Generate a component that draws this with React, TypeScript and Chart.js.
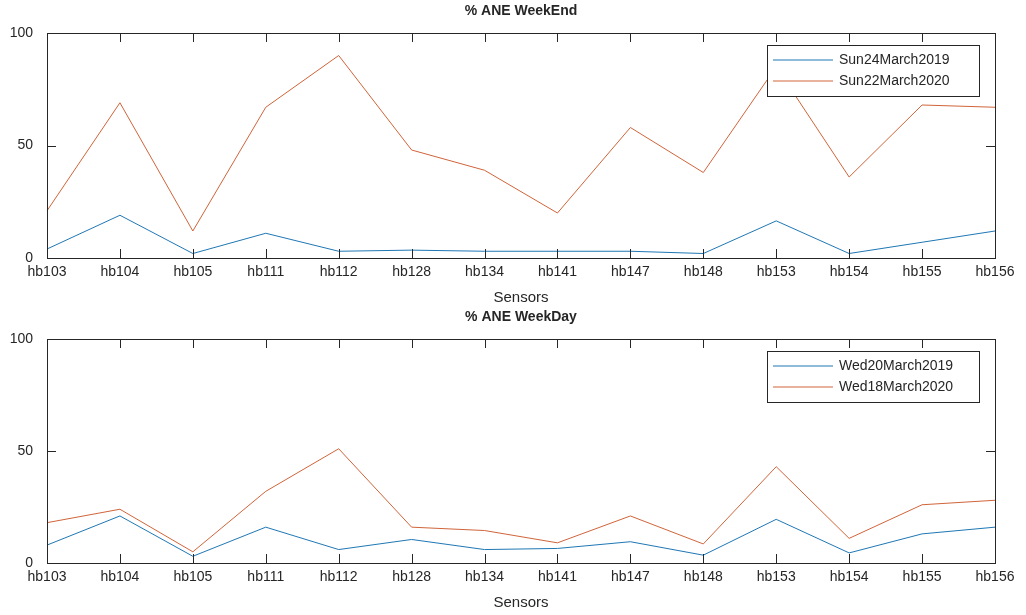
import React, { useEffect, useRef } from "react";
import { Chart, registerables } from "chart.js";
Chart.register(...registerables);

const sensors = ["hb103","hb104","hb105","hb111","hb112","hb128","hb134","hb141","hb147","hb148","hb153","hb154","hb155","hb156"];
const sun2019 = [4, 19, 2, 11, 3, 3.5, 3, 3, 3, 2, 16.5, 2, 7, 12];
const sun2020 = [21, 69, 12, 67, 90, 48, 39, 20, 58, 38, 85, 36, 68, 67];
const wed2019 = [8, 21, 3, 16, 6, 10.5, 6, 6.5, 9.5, 3.5, 19.5, 4.5, 13, 16];
const wed2020 = [18, 24, 5, 32, 51, 16, 14.5, 9, 21, 8.5, 43, 11, 26, 28];
const yTicks = [0, 50, 100];

const FONT = "'Liberation Sans', Arial, sans-serif";
const BLUE = "#1f77b4";
const ORANGE = "#d0643a";

function makeChart(canvas: HTMLCanvasElement, title: string, names: string[], a: number[], b: number[], top: number, xH: number) {
  const deco = {
    id: "deco",
    afterDraw(chart: any) {
      const { ctx, chartArea: ca, scales } = chart;
      ctx.save();
      ctx.strokeStyle = "#262626";
      ctx.lineWidth = 1;
      ctx.strokeRect(Math.round(ca.left) + 0.5, Math.round(ca.top) + 0.5, Math.round(ca.right - ca.left), Math.round(ca.bottom - ca.top));
      ctx.beginPath();
      sensors.forEach((_, i) => {
        const x = Math.round(scales.x.getPixelForValue(i)) + 0.5;
        ctx.moveTo(x, ca.bottom); ctx.lineTo(x, ca.bottom - 9);
        ctx.moveTo(x, ca.top); ctx.lineTo(x, ca.top + 9);
      });
      yTicks.forEach((v) => {
        const y = Math.round(scales.y.getPixelForValue(v)) + 0.5;
        ctx.moveTo(ca.left, y); ctx.lineTo(ca.left + 9, y);
        ctx.moveTo(ca.right, y); ctx.lineTo(ca.right - 9, y);
      });
      ctx.stroke();
      ctx.fillStyle = "#262626";
      ctx.textAlign = "center";
      ctx.textBaseline = "middle";
      ctx.font = `bold 14px ${FONT}`;
      ctx.fillText(title, (ca.left + ca.right) / 2, ca.top - 22);
      ctx.font = `15px ${FONT}`;
      ctx.fillText("Sensors", (ca.left + ca.right) / 2, ca.bottom + 40);
      // legend
      const lw = 212, lh = 51;
      const lx = ca.right - 16 - lw, ly = ca.top + 12;
      ctx.fillStyle = "#fff";
      ctx.fillRect(lx, ly, lw, lh);
      ctx.strokeRect(lx + 0.5, ly + 0.5, lw, lh);
      ctx.font = `14px ${FONT}`;
      ctx.textAlign = "left";
      [[BLUE, names[0]], [ORANGE, names[1]]].forEach(([c, n], i) => {
        const yy = ly + 15 + i * 21;
        ctx.strokeStyle = c;
        ctx.beginPath(); ctx.moveTo(lx + 6, yy); ctx.lineTo(lx + 66, yy); ctx.stroke();
        ctx.fillStyle = "#262626";
        ctx.fillText(n, lx + 72, yy);
      });
      ctx.restore();
    },
  };
  return new Chart(canvas, {
    type: "line",
    data: {
      labels: sensors,
      datasets: [
        { label: names[0], data: a, borderColor: BLUE, borderWidth: 1, pointRadius: 0, tension: 0 },
        { label: names[1], data: b, borderColor: ORANGE, borderWidth: 1, pointRadius: 0, tension: 0 },
      ],
    },
    options: {
      animation: false,
      responsive: false,
      layout: { padding: { top, right: 31, left: 0, bottom: 0 } },
      plugins: { legend: { display: false }, title: { display: false }, tooltip: { enabled: false } },
      scales: {
        x: {
          offset: false,
          grid: { display: false },
          border: { display: false },
          ticks: { color: "#262626", font: { family: FONT, size: 14 }, padding: -2, maxRotation: 0, autoSkip: false },
          afterFit: (s: any) => { s.height = xH; },
        },
        y: {
          min: 0, max: 100,
          grid: { display: false },
          border: { display: false },
          afterBuildTicks: (s: any) => { s.ticks = yTicks.map((v) => ({ value: v })); },
          ticks: { color: "#262626", font: { family: FONT, size: 14 }, padding: 6 },
          afterFit: (s: any) => { s.width = 47; },
        },
      },
    },
    plugins: [deco],
  });
}

export default function App() {
  const r1 = useRef<HTMLCanvasElement>(null);
  const r2 = useRef<HTMLCanvasElement>(null);
  useEffect(() => {
    const c1 = makeChart(r1.current!, "% ANE WeekEnd", ["Sun24March2019", "Sun22March2020"], sun2019, sun2020, 33, 49);
    const c2 = makeChart(r2.current!, "% ANE WeekDay", ["Wed20March2019", "Wed18March2020"], wed2019, wed2020, 32, 52);
    return () => { c1.destroy(); c2.destroy(); };
  }, []);
  return (
    <div style={{ position: "absolute", left: 0, top: 0, width: 1026, height: 615, background: "#fff" }}>
      <canvas ref={r1} width={1026} height={307} style={{ position: "absolute", left: 0, top: 0 }} />
      <canvas ref={r2} width={1026} height={308} style={{ position: "absolute", left: 0, top: 307 }} />
    </div>
  );
}
